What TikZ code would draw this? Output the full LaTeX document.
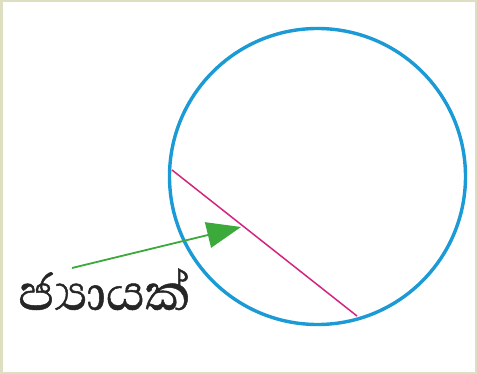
\documentclass[tikz,border=0pt]{standalone}
\usepackage{fontspec}
\newfontfamily\sinhalafont[Script=Sinhala,FakeBold=0.8]{Abhaya Libre}
\usetikzlibrary{arrows.meta}
\definecolor{circblue}{HTML}{1B9AD5}
\definecolor{chordpink}{HTML}{D3257F}
\definecolor{arrowgreen}{HTML}{3BAA3A}
\definecolor{frameol}{HTML}{DEDEC0}
\tikzset{
  circ/.style={draw=circblue, line width=3.4pt},
  chordline/.style={draw=chordpink, line width=1.5pt},
  pointer/.style={draw=arrowgreen, line width=1.8pt, -{Triangle[length=34pt,width=26pt,fill=arrowgreen]}},
  lbl/.style={font=\sinhalafont\fontsize{64}{64}\selectfont, text=black!85, inner sep=0pt, anchor=base west}
}
\begin{document}
\begin{tikzpicture}[x=1pt,y=-1pt]
\useasboundingbox (0,0) rectangle (477,374);
\fill[white] (0,0) rectangle (477,374);
\draw[frameol, line width=2.5pt] (1.25,1.25) rectangle (475.75,372.75);
\node[circ, circle, minimum size=296pt, inner sep=0pt] (c) at (317.5,176.5) {};
\coordinate (p1) at (172,170);
\coordinate (p2) at (357,316);
\draw[chordline] (p1) -- (p2);
\node[lbl] (t) at (18,310) {ජ්‍යායක්};
\coordinate (s) at (72,268);
\coordinate (e) at (241,227);
\draw[pointer] (s) -- (e);
\end{tikzpicture}
\end{document}
